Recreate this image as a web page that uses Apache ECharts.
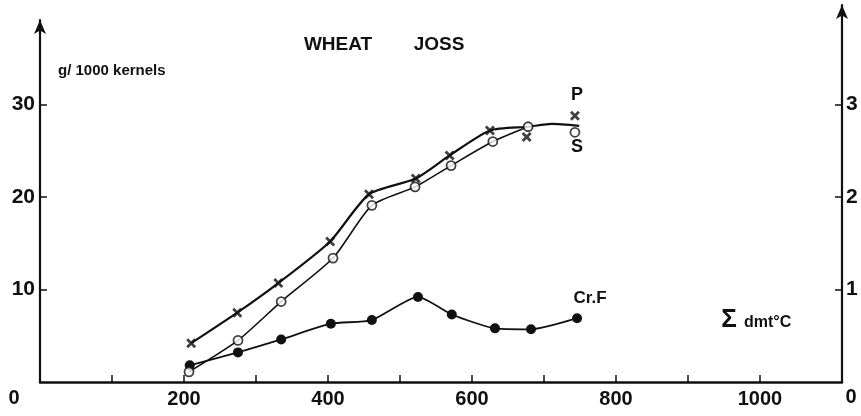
<!DOCTYPE html>
<html><head><meta charset="utf-8">
<script src="https://cdn.jsdelivr.net/npm/echarts@6/dist/echarts.min.js"></script>
<style>html,body{margin:0;padding:0;background:#fff}#c{width:861px;height:416px}</style>
</head><body><div id="c"></div>
<script>
// ---- data ----
const xTickValues = [100, 200, 300, 400, 500, 600, 700, 800, 900, 1000];
const xLabelValues = [200, 400, 600, 800, 1000];
const yLeftLabels = [10, 20, 30];
const yRightLabels = [1, 2, 3];

// P : x markers
const pX = [210, 274, 331, 403, 457, 522, 569, 625, 676, 743];
const pY = [4.2, 7.5, 10.7, 15.2, 20.3, 22.0, 24.5, 27.2, 26.5, 28.8];
// S : open circles
const sX = [207, 275, 335, 407, 461, 521, 571, 629, 678, 743];
const sY = [1.1, 4.5, 8.7, 13.4, 19.1, 21.1, 23.4, 26.0, 27.6, 27.0];
// Cr.F : filled circles
const fX = [208, 275, 335, 404, 461, 525, 572, 632, 682, 746];
const fY = [1.8, 3.2, 4.6, 6.3, 6.7, 9.2, 7.3, 5.8, 5.7, 6.9];
// common hand-drawn tail of the P/S curve
const tailX = [711, 749];
const tailY = [27.9, 27.7];

const zip = (xs, ys) => xs.map((x, i) => [x, ys[i]]);
const pCurve = zip(pX.slice(0, 8), pY.slice(0, 8)).concat([[sX[8], sY[8]]], zip(tailX, tailY));
const sCurve = zip(sX.slice(0, 9), sY.slice(0, 9));

const INK = '#111';
const FONT = 'Liberation Sans';
const crossPath = 'path://M0,2L2,0L5,3L8,0L10,2L7,5L10,8L8,10L5,7L2,10L0,8L3,5Z';

const chart = echarts.init(document.getElementById('c'), null, {renderer: 'canvas'});
const txt = (text, x, y, size, align) => ({
  type: 'text', x: x, y: y, z: 10,
  style: {text: text, fill: INK, font: 'bold ' + size + 'px "' + FONT + '"', textAlign: align || 'center', textVerticalAlign: 'middle'}
});
const plain = v => String(v);

chart.setOption({
  animation: false,
  backgroundColor: '#fff',
  grid: [
    {left: 40, right: 19, top: 20, bottom: 34},
    {left: 40, right: 19, top: 5, bottom: 34}
  ],
  xAxis: [
    {
      gridIndex: 0, type: 'value', min: 0, max: 1114,
      axisLine: {onZero: false, lineStyle: {color: INK, width: 2.5}},
      axisTick: {inside: true, length: 7, lineStyle: {color: INK, width: 1.5}, customValues: xTickValues},
      axisLabel: {customValues: xLabelValues, formatter: plain, color: INK, fontFamily: FONT, fontWeight: 'bold', fontSize: 20, margin: 7},
      splitLine: {show: false}
    },
    {gridIndex: 1, type: 'value', min: 0, max: 1114, show: false}
  ],
  yAxis: [
    {
      gridIndex: 0, type: 'value', min: 0, max: 39.14, position: 'left',
      axisLine: {show: true, onZero: false, lineStyle: {color: INK, width: 2.2}, symbol: ['none', 'arrow'], symbolSize: [9, 14]},
      axisTick: {show: true, inside: true, length: 7, lineStyle: {color: INK, width: 1.5}, customValues: yLeftLabels},
      axisLabel: {customValues: yLeftLabels, formatter: plain, color: INK, fontFamily: FONT, fontWeight: 'bold', fontSize: 21, margin: 5},
      splitLine: {show: false}
    },
    {
      gridIndex: 1, type: 'value', min: 0, max: 4.076, position: 'right',
      axisLine: {show: true, onZero: false, lineStyle: {color: INK, width: 2.2}, symbol: ['none', 'arrow'], symbolSize: [9, 14]},
      axisTick: {show: true, inside: true, length: 7, lineStyle: {color: INK, width: 1.5}, customValues: yRightLabels},
      axisLabel: {customValues: yRightLabels, formatter: plain, color: INK, fontFamily: FONT, fontWeight: 'bold', fontSize: 21, margin: 4},
      splitLine: {show: false}
    }
  ],
  series: [
    {type: 'line', data: pCurve, smooth: 0.22, showSymbol: false, lineStyle: {color: INK, width: 2.2}, z: 2},
    {type: 'line', data: sCurve, smooth: 0.22, showSymbol: false, lineStyle: {color: INK, width: 1.6}, z: 2},
    {type: 'line', data: zip(fX, fY), smooth: 0.2, symbol: 'circle', symbolSize: 10,
      itemStyle: {color: INK}, lineStyle: {color: INK, width: 1.8}, z: 3},
    {type: 'scatter', data: zip(pX, pY), symbol: crossPath, symbolSize: 10,
      itemStyle: {color: INK}, z: 4},
    {type: 'scatter', data: zip(sX, sY), symbol: 'circle', symbolSize: 9,
      itemStyle: {color: '#fff', borderColor: INK, borderWidth: 1.8}, z: 5}
  ],
  graphic: [
    txt('WHEAT', 338, 45, 19),
    txt('JOSS', 439, 45, 19),
    txt('g/ 1000 kernels', 58, 71, 15, 'left'),
    txt('P', 577, 95, 18),
    txt('S', 577, 147, 18),
    txt('Cr.F', 590, 298, 17),
    txt('Σ', 729, 320, 26),
    txt('dmt°C', 744, 323, 16, 'left'),
    txt('0', 14, 398, 20),
    txt('0', 851, 397, 20)
  ]
});
</script>
</body></html>
